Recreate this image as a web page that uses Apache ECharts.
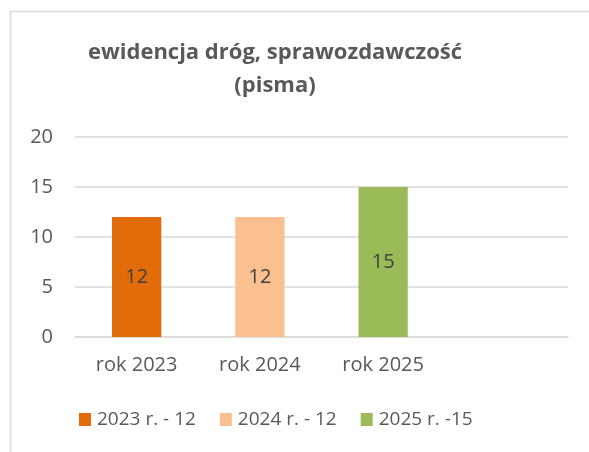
<!DOCTYPE html>
<html><head><meta charset="utf-8">
<script src="https://cdn.jsdelivr.net/npm/echarts@6/dist/echarts.min.js"></script>
<style>html,body{margin:0;padding:0;background:#fff}#c{width:589px;height:452px}</style>
</head><body><div id="c"></div>
<script>
const categories = ['rok 2023', 'rok 2024', 'rok 2025', ''];
const seriesNames = ['2023 r. - 12', '2024 r. - 12', '2025 r. -15'];
const values = [12, 12, 15];
const colors = ['#E36C0A', '#FAC090', '#9BBB59'];
const yTicks = { min: 0, max: 20, interval: 5 };

const FONT = '"Open Sans", sans-serif';
const chart = echarts.init(document.getElementById('c'), null, { renderer: 'canvas' });
const series = seriesNames.map((name, i) => ({
  name, type: 'bar', stack: 'all', barWidth: '40%',
  itemStyle: { color: colors[i] },
  label: { show: true, position: 'inside', color: '#404040', fontFamily: FONT, fontSize: 20,
    formatter: p => p.value },
  data: categories.map((c, j) => j === i ? values[i] : '-')
}));
chart.setOption({
  animation: false,
  graphic: [{ type: 'rect', shape: { x: 10.5, y: 11.5, width: 700, height: 600 },
    style: { fill: 'none', stroke: '#D9D9D9', lineWidth: 1.5 }, silent: true }],
  title: {
    text: 'ewidencja dróg, sprawozdawczość\n(pisma)', left: 270, top: 31, textAlign: 'center',
    textStyle: { fontFamily: FONT, fontSize: 22, fontWeight: 'bold', color: '#595959', lineHeight: 33 }
  },
  legend: {
    data: seriesNames, left: 79, top: 410, padding: 0, itemWidth: 12, itemHeight: 13, itemGap: 24, icon: 'rect',
    textStyle: { fontFamily: FONT, fontSize: 19, color: '#595959', padding: [0, 0, 0, 1] }
  },
  grid: { left: 75, right: 21, top: 137, bottom: 115, containLabel: false },
  xAxis: {
    type: 'category', data: categories,
    axisLine: { lineStyle: { color: '#D9D9D9', width: 1.5 } }, axisTick: { show: false },
    axisLabel: { fontFamily: FONT, fontSize: 20, color: '#595959', margin: 18 }
  },
  yAxis: {
    type: 'value', min: yTicks.min, max: yTicks.max, interval: yTicks.interval,
    axisLine: { show: false }, axisTick: { show: false },
    splitLine: { lineStyle: { color: '#D9D9D9', width: 1.5 } },
    axisLabel: { fontFamily: FONT, fontSize: 20, color: '#595959', margin: 22 }
  },
  series
});
</script></body></html>
